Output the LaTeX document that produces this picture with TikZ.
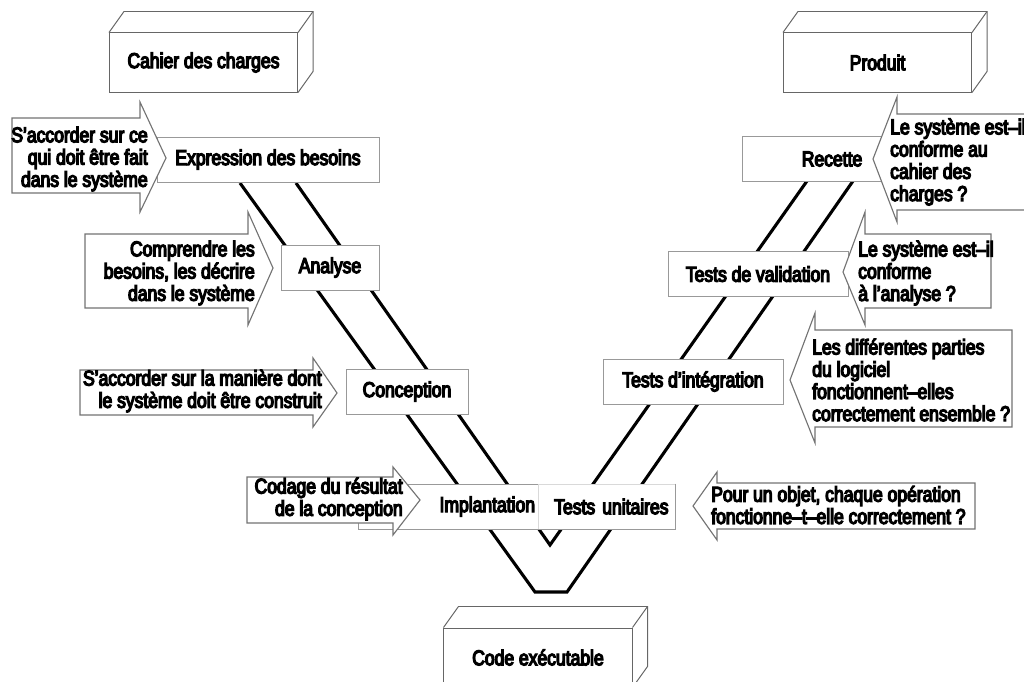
\documentclass[tikz,border=0pt]{standalone}
\usepackage{fontspec}
\setmainfont{Liberation Sans}[FakeStretch=0.82,FakeBold=6]
\begin{document}
\begin{tikzpicture}[x=0.025cm, y=-0.025cm, font=\fontsize{15.2}{15.8}\selectfont]
    \tikzset{
        phase/.style={draw=black!40, fill=white, line width=0.6pt, minimum height=1.125cm, inner sep=0pt},
        cube/.style={draw=black!60, fill=white, line width=0.7pt, minimum width=4.7cm, minimum height=1.475cm, inner sep=0pt},
        cubeface/.style={draw=black!60, line width=0.7pt},
        flow/.style={draw=black!55, fill=white, line width=0.8pt},
        note/.style={inner sep=0pt},
        vline/.style={line width=2.2pt}
    }
    \useasboundingbox (0,0) rectangle (1024,682);
    \clip (0,0) rectangle (1024,682);

    % the V
    \coordinate (o1) at (240,183);
    \coordinate (o2) at (535,592);
    \coordinate (o3) at (567,592);
    \coordinate (o4) at (853,181);
    \coordinate (i1) at (296,183);
    \coordinate (i2) at (550,545);
    \coordinate (i3) at (807,181);
    \draw[vline] (o1) -- (o2) -- (o3) -- (o4);
    \draw[vline] (i1) -- (i2) -- (i3);

    % documents
    \node[cube] (cdc) at (203.5,62.5) {Cahier des charges};
    \node[cube] (prod) at (877.5,62.5) {Produit};
    \node[cube] (code) at (538,657.5) {Code exécutable};
    \foreach \c in {cdc,prod,code} {
        \draw[cubeface] (\c.north west) -- ++(15,-21) -- ([shift={(15,-21)}]\c.north east) -- ([shift={(15,-21)}]\c.south east) -- (\c.south east);
        \draw[cubeface] (\c.north east) -- ++(15,-21);
    }

    % phases
    \node[phase, minimum width=5.55cm] (expr) at (268,159.5) {Expression des besoins};
    \node[phase, minimum width=2.45cm] (ana) at (330,267.5) {Analyse};
    \node[phase, minimum width=3.05cm] (conc) at (407,391.5) {Conception};
    \node[phase, text width=4.35cm, inner xsep=0.075cm, align=right] (impl) at (448,506.5) {Implantation};
    \node[phase, draw=black!15, text width=3.1cm, inner xsep=0.16cm, align=right] (tu) at (606.5,506.5) {Tests unitaires};
    \draw[black!40, line width=0.6pt] (tu.north east) -- (tu.south east) -- (tu.south west);
    \node[phase, minimum width=4.5cm] (rec) at (832,159) {Recette};
    \node[phase, minimum width=4.5cm] (tval) at (758,274) {Tests de validation};
    \node[phase, minimum width=4.5cm] (tint) at (693,381.5) {Tests d’intégration};

    % arrows in
    \draw[flow] (12,118) -- (140,118) -- (140,102) -- (166,158) -- (140,212) -- (140,193) -- (12,193) -- cycle;
    \draw[flow] (85,234) -- (248,234) -- (248,212) -- (273,268) -- (248,325) -- (248,308) -- (85,308) -- cycle;
    \draw[flow] (80,370) -- (313,370) -- (313,358) -- (337,393) -- (313,427) -- (313,415) -- (80,415) -- cycle;
    \draw[flow] (247,477) -- (393,477) -- (393,467) -- (420,500) -- (393,535) -- (393,523) -- (247,523) -- cycle;
    % arrows back
    \draw[flow] (1040,114) -- (897,114) -- (897,97) -- (873,159) -- (897,222) -- (897,210) -- (1040,210) -- cycle;
    \draw[flow] (991,234) -- (865,234) -- (865,212) -- (843,272) -- (865,325) -- (865,308) -- (991,308) -- cycle;
    \draw[flow] (1012,330) -- (815,330) -- (815,313) -- (790,380) -- (815,443) -- (815,427) -- (1012,427) -- cycle;
    \draw[flow] (975,483) -- (717,483) -- (717,472) -- (693,506) -- (717,540) -- (717,529) -- (975,529) -- cycle;

    \node[note, anchor=east, align=right] (q1) at (148,159) {S’accorder sur ce\\qui doit être fait\\dans le système};
    \node[note, anchor=east, align=right] (q2) at (255,273) {Comprendre les\\besoins, les décrire\\dans le système};
    \node[note, anchor=east, align=right] (q3) at (322,391) {S’accorder sur la manière dont\\le système doit être construit};
    \node[note, anchor=east, align=right] (q4) at (403,499) {Codage du résultat\\de la conception};
    \node[note, anchor=west, align=left] (a1) at (890,162) {Le système est–il\\conforme au\\cahier des\\charges ?};
    \node[note, anchor=west, align=left] (a2) at (858,273) {Le système est–il\\conforme\\à l’analyse ?};
    \node[note, anchor=west, align=left] (a3) at (812,380) {Les différentes parties\\du logiciel\\fonctionnent–elles\\correctement ensemble ?};
    \node[note, anchor=west, align=left] (a4) at (711,505) {Pour un objet, chaque opération\\fonctionne–t–elle correctement ?};
\end{tikzpicture}
\end{document}
